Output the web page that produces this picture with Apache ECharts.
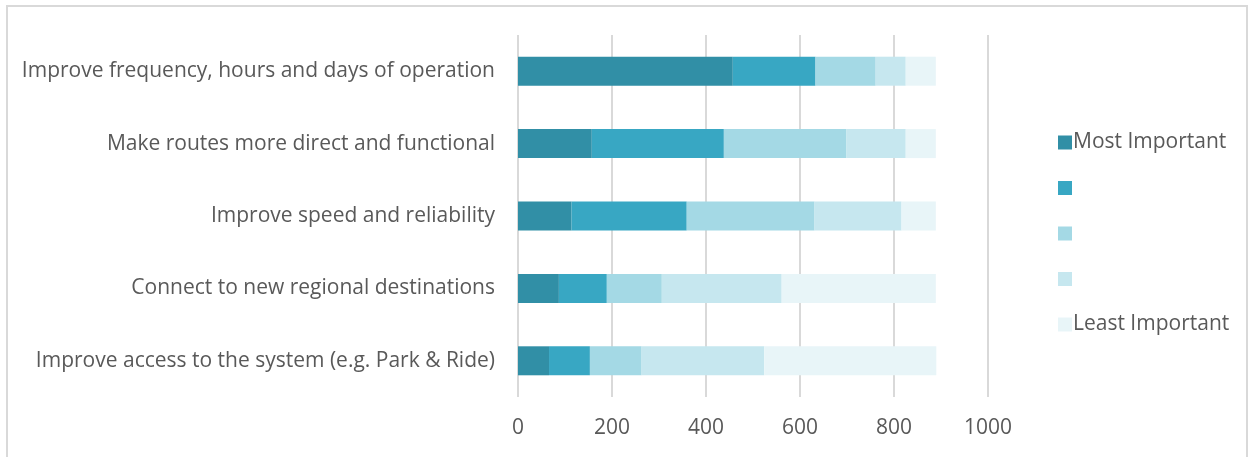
<!DOCTYPE html>
<html>
<head>
<meta charset="utf-8">
<script src="https://cdn.jsdelivr.net/npm/echarts@6/dist/echarts.min.js"></script>
<style>
  html, body { margin: 0; padding: 0; background: #ffffff; }
  #chart { width: 1253px; height: 457px; }
</style>
</head>
<body>
<div id="chart"></div>
<script>
// Survey priorities: number of responses by importance rank
const categories = [
  'Improve frequency, hours and days of operation',
  'Make routes more direct and functional',
  'Improve speed and reliability',
  'Connect to new regional destinations',
  'Improve access to the system (e.g. Park & Ride)'
];
const rankNames = ['Most Important', 'Rank 2', 'Rank 3', 'Rank 4', 'Least Important'];
const rank1 = [457, 157, 114, 87, 66];
const rank2 = [176, 281, 245, 102, 87];
const rank3 = [128, 261, 272, 117, 110];
const rank4 = [64, 126, 185, 255, 261];
const rank5 = [64, 64, 73, 328, 366];
const xTicks = [0, 200, 400, 600, 800, 1000];

const colors = ['#318FA6', '#38A7C3', '#A4D9E5', '#C6E7EF', '#E8F5F8'];
const rankValues = [rank1, rank2, rank3, rank4, rank5];
const FONT = 'Open Sans';
const FS = 21;

const chart = echarts.init(document.getElementById('chart'));
chart.setOption({
  animation: false,
  textStyle: { fontFamily: FONT },
  color: colors,
  graphic: [{
    type: 'rect',
    shape: { x: 7, y: 6, width: 1240, height: 470 },
    style: { fill: 'none', stroke: '#d9d9d9', lineWidth: 2 },
    silent: true
  }],
  grid: { left: 518, right: 265, top: 35, bottom: 60 },
  legend: {
    orient: 'vertical',
    left: 1053,
    top: 127,
    itemWidth: 14,
    itemHeight: 14,
    itemGap: 24.5,
    icon: 'rect',
    data: rankNames,
    formatter: function (name) {
      // only the two ends of the scale carry a caption
      return (name === rankNames[0] || name === rankNames[4]) ? name : ' ';
    },
    textStyle: { fontFamily: FONT, fontSize: FS, lineHeight: 20, color: '#595959', padding: [0, 0, 0, -4] }
  },
  xAxis: {
    type: 'value',
    min: xTicks[0],
    max: xTicks[xTicks.length - 1],
    interval: xTicks[1] - xTicks[0],
    axisLine: { show: false },
    axisTick: { show: false },
    splitLine: { lineStyle: { color: '#d9d9d9', width: 2 } },
    axisLabel: {
      fontFamily: FONT, fontSize: FS, color: '#595959', margin: 21,
      formatter: function (v) { return String(v); }
    }
  },
  yAxis: {
    type: 'category',
    inverse: true,
    data: categories,
    axisLine: { show: false },
    axisTick: { show: false },
    axisLabel: { fontFamily: FONT, fontSize: FS, color: '#595959', margin: 23, padding: [2, 0, 0, 0] }
  },
  series: rankNames.map(function (name, i) {
    return {
      name: name,
      type: 'bar',
      stack: 'total',
      barWidth: 29,
      data: rankValues[i],
      itemStyle: { color: colors[i] }
    };
  })
});
</script>
</body>
</html>
